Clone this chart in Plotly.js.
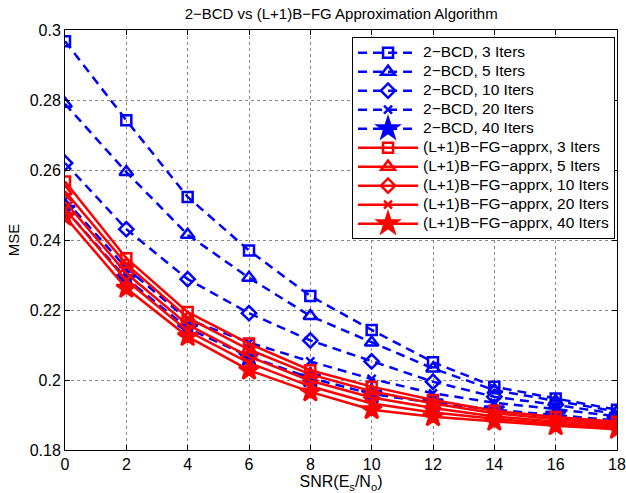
<!DOCTYPE html>
<html>
<head>
<meta charset="utf-8">
<script src="https://cdn.plot.ly/plotly-3.0.1.min.js"></script>
<style>
html,body{margin:0;padding:0;background:#fff;}
.legendtext{font-size:15.5px !important;}
</style>
</head>
<body>
<div id="chart" style="width:626px;height:493px;"></div>
<script>
const snr = [0, 2, 4, 6, 8, 10, 12, 14, 16, 18];

const bcd3  = [0.2968, 0.2742, 0.2523, 0.2370, 0.2240, 0.2143, 0.2051, 0.1981, 0.1947, 0.1915];
const bcd5  = [0.2789, 0.2594, 0.2415, 0.2292, 0.2183, 0.2107, 0.2033, 0.1971, 0.1940, 0.1910];
const bcd10 = [0.2620, 0.2431, 0.2288, 0.2191, 0.2113, 0.2053, 0.1995, 0.1952, 0.1929, 0.1903];
const bcd20 = [0.2515, 0.2320, 0.2173, 0.2107, 0.2053, 0.2003, 0.1962, 0.1935, 0.1917, 0.1896];
const bcd40 = [0.2488, 0.2290, 0.2148, 0.2067, 0.2006, 0.1960, 0.1935, 0.1915, 0.1900, 0.1884];

const fg3  = [0.2567, 0.2348, 0.2194, 0.2104, 0.2028, 0.1981, 0.1943, 0.1912, 0.1894, 0.1881];
const fg5  = [0.2539, 0.2331, 0.2178, 0.2087, 0.2016, 0.1968, 0.1933, 0.1905, 0.1888, 0.1875];
const fg10 = [0.2509, 0.2305, 0.2158, 0.2067, 0.1998, 0.1950, 0.1920, 0.1896, 0.1881, 0.1870];
const fg20 = [0.2488, 0.2285, 0.2140, 0.2049, 0.1982, 0.1933, 0.1907, 0.1889, 0.1874, 0.1864];
const fg40 = [0.2467, 0.2262, 0.2124, 0.2028, 0.1966, 0.1915, 0.1895, 0.1882, 0.1869, 0.1859];

const bcdNames = ['2\u2212BCD, 3 Iters', '2\u2212BCD, 5 Iters', '2\u2212BCD, 10 Iters', '2\u2212BCD, 20 Iters', '2\u2212BCD, 40 Iters'];
const fgNames = ['(L+1)B\u2212FG\u2212apprx, 3 Iters', '(L+1)B\u2212FG\u2212apprx, 5 Iters', '(L+1)B\u2212FG\u2212apprx, 10 Iters', '(L+1)B\u2212FG\u2212apprx, 20 Iters', '(L+1)B\u2212FG\u2212apprx, 40 Iters'];
const symbols = ['square-open', 'triangle-up-open', 'diamond-open', 'x-thin-open', 'star'];
const sizes = [10, 12, 11, 8, 15];

const yTickVals = [0.18, 0.2, 0.22, 0.24, 0.26, 0.28, 0.3];
const yTickText = ['0.18', '0.2', '0.22', '0.24', '0.26', '0.28', '0.3'];
const xTickVals = [0, 2, 4, 6, 8, 10, 12, 14, 16, 18];

const bcdData = [bcd3, bcd5, bcd10, bcd20, bcd40];
const fgData = [fg3, fg5, fg10, fg20, fg40];

const traces = [];
bcdData.forEach((d, i) => {
  traces.push({
    x: snr, y: d, name: bcdNames[i], type: 'scatter', mode: 'lines+markers',
    line: {color: '#0000ff', width: 2.5, dash: '9px,6px'},
    marker: {symbol: symbols[i], size: sizes[i], color: '#0000ff', line: {color: '#0000ff', width: 2.5}}
  });
});
fgData.forEach((d, i) => {
  traces.push({
    x: snr, y: d, name: fgNames[i], type: 'scatter', mode: 'lines+markers',
    line: {color: '#ff0000', width: 2.5},
    marker: {symbol: symbols[i], size: sizes[i], color: '#ff0000', line: {color: '#ff0000', width: 2.5}}
  });
});

const layout = {
  width: 626, height: 493,
  margin: {l: 65, r: 9, t: 30, b: 43},
  paper_bgcolor: '#ffffff', plot_bgcolor: '#ffffff',
  font: {family: 'Liberation Sans, Arial, sans-serif', size: 16, color: '#000'},
  title: {text: '2\u2212BCD vs (L+1)B\u2212FG Approximation Algorithm', font: {size: 15}, x: 0.545, xanchor: 'center', y: 0.972, yanchor: 'middle'},
  showlegend: true,
  legend: {
    x: 0.52, xanchor: 'left', y: 0.983, yanchor: 'top',
    bgcolor: '#ffffff', bordercolor: '#000', borderwidth: 1,
    font: {size: 12}, itemwidth: 60, tracegroupgap: 0,
    traceorder: 'normal'
  },
  xaxis: {
    range: [0, 18], tickvals: xTickVals, ticks: 'inside', ticklen: 5, tickcolor: '#000',
    showline: true, linecolor: '#000', linewidth: 1, mirror: 'ticks',
    showgrid: true, gridcolor: '#888', griddash: 'dot', gridwidth: 1, zeroline: false,
    ticklabeloverflow: 'allow',
    title: {text: 'SNR(E<sub>s</sub>/N<sub>o</sub>)', font: {size: 16}, standoff: 2},
    tickfont: {size: 16}
  },
  yaxis: {
    range: [0.18, 0.3], tickvals: yTickVals, ticktext: yTickText, ticks: 'inside', ticklen: 5, tickcolor: '#000',
    showline: true, linecolor: '#000', linewidth: 1, mirror: 'ticks',
    showgrid: true, gridcolor: '#888', griddash: 'dot', gridwidth: 1, zeroline: false,
    ticklabeloverflow: 'allow',
    title: {text: 'MSE', font: {size: 15}, standoff: 6},
    tickfont: {size: 16}
  }
};

Plotly.newPlot('chart', traces, layout, {displayModeBar: false, staticPlot: true});
</script>
</body>
</html>
